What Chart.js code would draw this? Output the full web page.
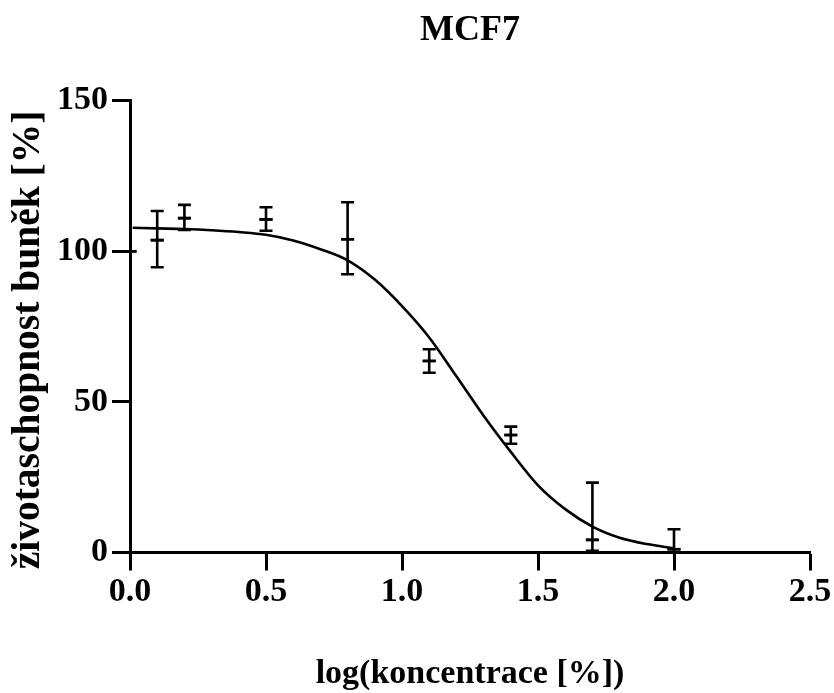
<!DOCTYPE html>
<html>
<head>
<meta charset="utf-8">
<script src="https://cdn.jsdelivr.net/npm/chart.js@4/dist/chart.umd.min.js"></script>
<style>
html,body{margin:0;padding:0;background:#ffffff;}
canvas{display:block;}
</style>
</head>
<body>
<canvas id="c" width="834" height="693"></canvas>
<script>
// ---- data ----
const chartTitle = 'MCF7';
const xAxisTitle = 'log(koncentrace [%])';
const yAxisTitle = 'životaschopnost buněk [%]';

const logConc   = [0, 0.1, 0.2, 0.5, 0.8, 1.1, 1.4, 1.7, 2.0];
const viability = [100, 103.7, 111.0, 110.6, 104.0, 63.6, 39.0, 4.2, 1.1];
const errUp     = [0, 9.7, 4.4, 4.0, 12.3, 3.9, 2.8, 19.0, 6.6];
const errDown   = [0, 9.0, 3.9, 3.8, 11.6, 3.9, 2.9, 3.6, 1.1];

// fitted curve
const fitX = [0.01, 0.1, 0.2, 0.3, 0.4, 0.5, 0.6, 0.7, 0.8, 0.9, 1.0, 1.1, 1.2, 1.3, 1.4, 1.5, 1.6, 1.7, 1.8, 1.9, 2.0];
const fitY = [107.8, 107.6, 107.4, 107.0, 106.4, 105.5, 103.6, 100.7, 97.0, 90.6, 81.8, 71.4, 58.5, 45.4, 33.4, 22.3, 14.4, 8.6, 4.9, 2.8, 1.4];

const xTickValues = [0, 0.5, 1.0, 1.5, 2.0, 2.5];
const yTickValues = [0, 50, 100, 150];

// ---- chart ----
const FONT = '"Liberation Serif", "Times New Roman", serif';

const errorBarPlugin = {
  id: 'errorBars',
  afterDatasetsDraw(chart) {
    const ctx = chart.ctx;
    const xs = chart.scales.x, ys = chart.scales.y;
    const cap = 6.5;
    ctx.save();
    ctx.strokeStyle = '#000';
    ctx.lineWidth = 2.6;
    ctx.lineCap = 'butt';
    for (let i = 0; i < logConc.length; i++) {
      const px = xs.getPixelForValue(logConc[i]);
      const pMean = ys.getPixelForValue(viability[i]);
      const pHi = ys.getPixelForValue(viability[i] + errUp[i]);
      const pLo = ys.getPixelForValue(viability[i] - errDown[i]);
      ctx.beginPath();
      // mean mark
      ctx.moveTo(px - cap, pMean); ctx.lineTo(px + cap, pMean);
      if (errUp[i] !== 0 || errDown[i] !== 0) {
        ctx.moveTo(px, pHi); ctx.lineTo(px, pLo);
        ctx.moveTo(px - cap, pHi); ctx.lineTo(px + cap, pHi);
        ctx.moveTo(px - cap, pLo); ctx.lineTo(px + cap, pLo);
      }
      ctx.stroke();
    }
    ctx.restore();
  }
};

// y-axis title, centred where the reference puts it
const yTitlePlugin = {
  id: 'yTitle',
  afterDraw(chart) {
    const ctx = chart.ctx;
    ctx.save();
    ctx.translate(29, 340);
    ctx.rotate(-Math.PI / 2);
    ctx.font = 'bold 39.5px ' + FONT;
    ctx.fillStyle = '#000';
    ctx.textAlign = 'center';
    ctx.textBaseline = 'middle';
    ctx.fillText(yAxisTitle, 0, 0);
    ctx.restore();
  }
};

new Chart(document.getElementById('c'), {
  type: 'scatter',
  data: {
    datasets: [
      {
        type: 'line',
        data: fitX.map((x, i) => ({x: x, y: fitY[i]})),
        borderColor: '#000',
        borderWidth: 2.6,
        pointRadius: 0,
        fill: false,
        cubicInterpolationMode: 'monotone',
        clip: false,
        order: 2
      },
      {
        type: 'scatter',
        data: logConc.map((x, i) => ({x: x, y: viability[i]})),
        pointStyle: 'line',
        pointRadius: 6.5,
        borderColor: '#000',
        backgroundColor: '#000',
        borderWidth: 2.6,
        clip: false,
        order: 1
      }
    ]
  },
  options: {
    responsive: false,
    animation: false,
    devicePixelRatio: 1,
    layout: { padding: { left: 0, right: 24, top: 0, bottom: 0 } },
    plugins: {
      legend: { display: false },
      tooltip: { enabled: false },
      title: {
        display: true,
        text: chartTitle,
        color: '#000',
        fullSize: false,
        font: { family: FONT, size: 36, weight: 'bold', lineHeight: 1.2 },
        padding: { top: 9, bottom: 48.5 }
      }
    },
    scales: {
      x: {
        type: 'linear',
        min: 0,
        max: 2.5,
        afterBuildTicks(scale) { scale.ticks = xTickValues.map(v => ({value: v})); },
        afterFit(scale) { scale.height = 140.5; scale.paddingLeft = 0; scale.paddingRight = 0; },
        border: { display: true, color: '#000', width: 3 },
        grid: { display: true, drawOnChartArea: false, drawTicks: true, tickLength: 18, tickColor: '#000', tickWidth: 3 },
        ticks: {
          color: '#000',
          padding: 1,
          font: { family: FONT, size: 34, weight: 'bold', lineHeight: 1.2 },
          callback: (v) => Number(v).toFixed(1),
          maxRotation: 0,
          autoSkip: false
        },
        title: {
          display: true,
          text: xAxisTitle,
          color: '#000',
          font: { family: FONT, size: 34, weight: 'bold', lineHeight: 1 },
          padding: { top: 0, bottom: 1.5 }
        }
      },
      y: {
        type: 'linear',
        min: 0,
        max: 150,
        afterBuildTicks(scale) { scale.ticks = yTickValues.map(v => ({value: v})); },
        afterFit(scale) { scale.width = 130; scale.paddingTop = 0; scale.paddingBottom = 0; },
        border: { display: true, color: '#000', width: 3 },
        grid: { display: true, drawOnChartArea: false, drawTicks: true, tickLength: 18, tickColor: '#000', tickWidth: 3 },
        ticks: {
          color: '#000',
          padding: 4,
          font: { family: FONT, size: 34, weight: 'bold', lineHeight: 1.2 },
          autoSkip: false
        },
        title: { display: false, text: yAxisTitle }
      }
    }
  },
  plugins: [errorBarPlugin, yTitlePlugin]
});
</script>
</body>
</html>
